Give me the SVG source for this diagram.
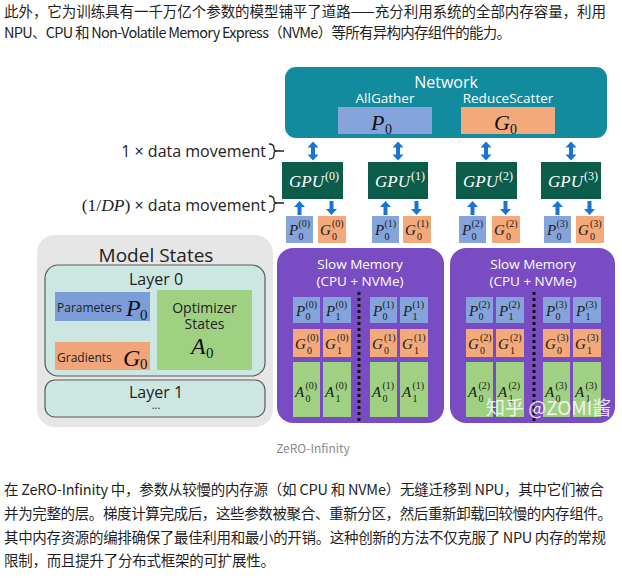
<svg xmlns="http://www.w3.org/2000/svg" width="622" height="578" viewBox="0 0 622 578">
<style>
.cjk{font-family:"Noto Sans CJK SC","Noto Sans",sans-serif;font-size:14.5px;fill:#1f1f1f}
.lbl{font-family:"Open Sans","Noto Sans",sans-serif}
.mi{font-family:"Liberation Serif",serif;font-style:italic}
.mn{font-family:"Liberation Serif",serif}
.cm{font-family:"Liberation Serif",serif;font-style:italic;font-size:15px;fill:#1a1a1a}
.cs{font-family:"Liberation Serif",serif;font-size:10px;fill:#1a1a1a}
.p{fill:#86a4dc}
.g{fill:#f3a97a}
.a{fill:#a0d183}
.arr{fill:#1b74d2}
.w{fill:#ffffff}
</style>
<defs>
<path id="dbl" d="M0,-9.5 L5.5,-3.5 L2,-3.5 L2,3.5 L5.5,3.5 L0,9.5 L-5.5,3.5 L-2,3.5 L-2,-3.5 L-5.5,-3.5 Z"/>
<path id="up" d="M0,0 L5.5,6 L2,6 L2,14 L-2,14 L-2,6 L-5.5,6 Z"/>
<path id="dn" d="M0,0 L5.5,-6 L2,-6 L2,-14 L-2,-14 L-2,-6 L-5.5,-6 Z"/>
</defs>

<!-- page text -->
<text class="cjk" x="4" y="17" textLength="602">此外，它为训练具有一千万亿个参数的模型铺平了道路——充分利用系统的全部内存容量，利用</text>
<text class="cjk" x="4" y="38" textLength="507">NPU、CPU 和 Non-Volatile Memory Express（NVMe）等所有异构内存组件的能力。</text>

<!-- Network -->
<g id="network">
<rect x="285" y="67" width="322" height="71" rx="11" fill="#118b9d"/>
<text class="lbl w" x="446" y="88" font-size="16" text-anchor="middle">Network</text>
<text class="lbl w" x="385" y="103" font-size="13.5" text-anchor="middle">AllGather</text>
<text class="lbl w" x="508" y="103" font-size="13.5" text-anchor="middle">ReduceScatter</text>
<rect x="338" y="107" width="94" height="27" class="p"/>
<rect x="461" y="107" width="94" height="27" class="g"/>
<text class="mi" x="371" y="130" font-size="22" fill="#111">P</text>
<text class="mn" x="385" y="134" font-size="14" fill="#111">0</text>
<text class="mi" x="494" y="130" font-size="22" fill="#111">G</text>
<text class="mn" x="510" y="134" font-size="14" fill="#111">0</text>
</g>

<!-- labels with braces -->
<g id="labels">
<text class="lbl" x="266" y="157" font-size="16" fill="#222" text-anchor="end">1 × data movement</text>
<text x="266" y="211" fill="#222" text-anchor="end"><tspan class="mn" font-size="17.5">(1/</tspan><tspan class="mi" font-size="17.5">DP</tspan><tspan class="mn" font-size="17.5">)</tspan><tspan class="lbl" font-size="16"> × data movement</tspan></text>
<path d="M269,144 Q274,144 274,148 L274,149 Q274,151 278,151 Q274,151 274,153 L274,155 Q274,159 269,159 M278,151 L284,151" fill="none" stroke="#222" stroke-width="1.3"/>
<path d="M269,196 Q274,196 274,200 L274,201 Q274,203 278,203 Q274,203 274,205 L274,208 Q274,212 269,212 M278,203 L284,203" fill="none" stroke="#222" stroke-width="1.3"/>
</g>

<!-- connectors -->
<g id="connectors" class="arr">
<use href="#dbl" x="313" y="151"/>
<use href="#dbl" x="398" y="151"/>
<use href="#dbl" x="486" y="151"/>
<use href="#dbl" x="571" y="151"/>
<use href="#up" x="299.5" y="201"/>
<use href="#dn" x="331.5" y="215"/>
<use href="#up" x="385.5" y="201"/>
<use href="#dn" x="416.5" y="215"/>
<use href="#up" x="472.5" y="201"/>
<use href="#dn" x="505.5" y="215"/>
<use href="#up" x="557.5" y="201"/>
<use href="#dn" x="589.5" y="215"/>
</g>

<!-- GPUs -->
<g id="gpu0" transform="translate(282,162)"><rect width="61" height="37" fill="#0b5c4b"/><text class="mi w" x="7" y="25" font-size="17">GPU</text><text class="mn w" x="43" y="18" font-size="12">(0)</text></g>
<g id="gpu1" transform="translate(368,162)"><rect width="60" height="37" fill="#0b5c4b"/><text class="mi w" x="7" y="25" font-size="17">GPU</text><text class="mn w" x="43" y="18" font-size="12">(1)</text></g>
<g id="gpu2" transform="translate(456,162)"><rect width="61" height="37" fill="#0b5c4b"/><text class="mi w" x="7" y="25" font-size="17">GPU</text><text class="mn w" x="43" y="18" font-size="12">(2)</text></g>
<g id="gpu3" transform="translate(541,162)"><rect width="60" height="37" fill="#0b5c4b"/><text class="mi w" x="7" y="25" font-size="17">GPU</text><text class="mn w" x="43" y="18" font-size="12">(3)</text></g>

<!-- GPU local shards -->
<g id="shards">
<g transform="translate(286,216)"><rect width="27" height="27" class="p"/><text class="cm" x="3" y="19">P</text><text class="cs" x="12.5" y="11">(0)</text><text class="cs" x="12.5" y="24">0</text></g>
<g transform="translate(318,216)"><rect width="28" height="27" class="g"/><text class="cm" x="2" y="19">G</text><text class="cs" x="14" y="11">(0)</text><text class="cs" x="14" y="24">0</text></g>
<g transform="translate(372,216)"><rect width="27" height="27" class="p"/><text class="cm" x="3" y="19">P</text><text class="cs" x="12.5" y="11">(1)</text><text class="cs" x="12.5" y="24">0</text></g>
<g transform="translate(403,216)"><rect width="28" height="27" class="g"/><text class="cm" x="2" y="19">G</text><text class="cs" x="14" y="11">(1)</text><text class="cs" x="14" y="24">0</text></g>
<g transform="translate(459,216)"><rect width="27" height="27" class="p"/><text class="cm" x="3" y="19">P</text><text class="cs" x="12.5" y="11">(2)</text><text class="cs" x="12.5" y="24">0</text></g>
<g transform="translate(492,216)"><rect width="28" height="27" class="g"/><text class="cm" x="2" y="19">G</text><text class="cs" x="14" y="11">(2)</text><text class="cs" x="14" y="24">0</text></g>
<g transform="translate(544,216)"><rect width="27" height="27" class="p"/><text class="cm" x="3" y="19">P</text><text class="cs" x="12.5" y="11">(3)</text><text class="cs" x="12.5" y="24">0</text></g>
<g transform="translate(576,216)"><rect width="28" height="27" class="g"/><text class="cm" x="2" y="19">G</text><text class="cs" x="14" y="11">(3)</text><text class="cs" x="14" y="24">0</text></g>
</g>

<!-- Model States -->
<g id="model-states">
<rect x="37" y="235" width="236" height="192" rx="18" fill="#e6e6e6"/>
<text class="lbl" x="156" y="262" font-size="19" fill="#222" text-anchor="middle">Model States</text>
<rect x="45" y="265" width="220" height="111" rx="13" fill="#cce7e1" stroke="#5a5a5a" stroke-width="1.2"/>
<text class="lbl" x="156" y="285" font-size="16" fill="#222" text-anchor="middle">Layer 0</text>
<rect x="55" y="292" width="95" height="29" fill="#7d9dd8"/>
<text class="lbl" x="57" y="312" font-size="12" fill="#222">Parameters</text>
<text class="mi" x="126" y="316" font-size="24" fill="#111">P</text>
<text class="mn" x="140" y="320" font-size="15" fill="#111">0</text>
<rect x="55" y="342" width="95" height="28" fill="#f2a57a"/>
<text class="lbl" x="57" y="362" font-size="12" fill="#222">Gradients</text>
<text class="mi" x="123" y="366" font-size="24" fill="#111">G</text>
<text class="mn" x="140" y="369" font-size="15" fill="#111">0</text>
<rect x="157" y="290" width="95" height="80" fill="#a0d183"/>
<text class="lbl" x="204.5" y="313" font-size="14" fill="#222" text-anchor="middle">Optimizer</text>
<text class="lbl" x="204.5" y="329" font-size="14" fill="#222" text-anchor="middle">States</text>
<text class="mi" x="191" y="354" font-size="24" fill="#111">A</text>
<text class="mn" x="206" y="358" font-size="15" fill="#111">0</text>
<rect x="45" y="380" width="220" height="37" rx="10" fill="#cce7e1" stroke="#5a5a5a" stroke-width="1.2"/>
<text class="lbl" x="156" y="398" font-size="16" fill="#222" text-anchor="middle">Layer 1</text>
<text class="lbl" x="156" y="409" font-size="11" fill="#222" text-anchor="middle">...</text>
</g>

<!-- Slow Memory 1 -->
<g id="slow-memory-0">
<rect x="277" y="248" width="167" height="175" rx="16" fill="#7a4cc3"/>
<text class="lbl w" x="360" y="269" font-size="13.5" text-anchor="middle">Slow Memory</text>
<text class="lbl w" x="360" y="286" font-size="13.5" text-anchor="middle">(CPU + NVMe)</text>
<line x1="359" y1="292" x2="359" y2="423" stroke="#111" stroke-width="3" stroke-dasharray="3 3"/>
<g transform="translate(293,297)"><rect width="27" height="26" class="p"/><text class="cm" x="3" y="19">P</text><text class="cs" x="12.5" y="11">(0)</text><text class="cs" x="12.5" y="23">0</text></g>
<g transform="translate(323,297)"><rect width="28" height="26" class="p"/><text class="cm" x="3" y="19">P</text><text class="cs" x="12.5" y="11">(0)</text><text class="cs" x="12.5" y="23">1</text></g>
<g transform="translate(370,297)"><rect width="27" height="26" class="p"/><text class="cm" x="3" y="19">P</text><text class="cs" x="12.5" y="11">(1)</text><text class="cs" x="12.5" y="23">0</text></g>
<g transform="translate(400,297)"><rect width="28" height="26" class="p"/><text class="cm" x="3" y="19">P</text><text class="cs" x="12.5" y="11">(1)</text><text class="cs" x="12.5" y="23">1</text></g>
<g transform="translate(293,329)"><rect width="27" height="28" class="g"/><text class="cm" x="2" y="20">G</text><text class="cs" x="14" y="12">(0)</text><text class="cs" x="14" y="25">0</text></g>
<g transform="translate(323,329)"><rect width="28" height="28" class="g"/><text class="cm" x="2" y="20">G</text><text class="cs" x="14" y="12">(0)</text><text class="cs" x="14" y="25">1</text></g>
<g transform="translate(370,329)"><rect width="27" height="28" class="g"/><text class="cm" x="2" y="20">G</text><text class="cs" x="14" y="12">(1)</text><text class="cs" x="14" y="25">0</text></g>
<g transform="translate(400,329)"><rect width="28" height="28" class="g"/><text class="cm" x="2" y="20">G</text><text class="cs" x="14" y="12">(1)</text><text class="cs" x="14" y="25">1</text></g>
<g transform="translate(293,362)"><rect width="27" height="55" class="a"/><text class="cm" x="2" y="35">A</text><text class="cs" x="12.5" y="27">(0)</text><text class="cs" x="12.5" y="40">0</text></g>
<g transform="translate(323,362)"><rect width="28" height="55" class="a"/><text class="cm" x="2" y="35">A</text><text class="cs" x="12.5" y="27">(0)</text><text class="cs" x="12.5" y="40">1</text></g>
<g transform="translate(370,362)"><rect width="27" height="55" class="a"/><text class="cm" x="2" y="35">A</text><text class="cs" x="12.5" y="27">(1)</text><text class="cs" x="12.5" y="40">0</text></g>
<g transform="translate(400,362)"><rect width="28" height="55" class="a"/><text class="cm" x="2" y="35">A</text><text class="cs" x="12.5" y="27">(1)</text><text class="cs" x="12.5" y="40">1</text></g>
</g>

<!-- Slow Memory 2 -->
<g id="slow-memory-1">
<rect x="450" y="248" width="165" height="175" rx="16" fill="#7a4cc3"/>
<text class="lbl w" x="533" y="269" font-size="13.5" text-anchor="middle">Slow Memory</text>
<text class="lbl w" x="533" y="286" font-size="13.5" text-anchor="middle">(CPU + NVMe)</text>
<line x1="534" y1="292" x2="534" y2="423" stroke="#111" stroke-width="3" stroke-dasharray="3 3"/>
<g transform="translate(466,297)"><rect width="27" height="26" class="p"/><text class="cm" x="3" y="19">P</text><text class="cs" x="12.5" y="11">(2)</text><text class="cs" x="12.5" y="23">0</text></g>
<g transform="translate(496,297)"><rect width="28" height="26" class="p"/><text class="cm" x="3" y="19">P</text><text class="cs" x="12.5" y="11">(2)</text><text class="cs" x="12.5" y="23">1</text></g>
<g transform="translate(543,297)"><rect width="27" height="26" class="p"/><text class="cm" x="3" y="19">P</text><text class="cs" x="12.5" y="11">(3)</text><text class="cs" x="12.5" y="23">0</text></g>
<g transform="translate(573,297)"><rect width="28" height="26" class="p"/><text class="cm" x="3" y="19">P</text><text class="cs" x="12.5" y="11">(3)</text><text class="cs" x="12.5" y="23">1</text></g>
<g transform="translate(466,329)"><rect width="27" height="28" class="g"/><text class="cm" x="2" y="20">G</text><text class="cs" x="14" y="12">(2)</text><text class="cs" x="14" y="25">0</text></g>
<g transform="translate(496,329)"><rect width="28" height="28" class="g"/><text class="cm" x="2" y="20">G</text><text class="cs" x="14" y="12">(2)</text><text class="cs" x="14" y="25">1</text></g>
<g transform="translate(543,329)"><rect width="27" height="28" class="g"/><text class="cm" x="2" y="20">G</text><text class="cs" x="14" y="12">(3)</text><text class="cs" x="14" y="25">0</text></g>
<g transform="translate(573,329)"><rect width="28" height="28" class="g"/><text class="cm" x="2" y="20">G</text><text class="cs" x="14" y="12">(3)</text><text class="cs" x="14" y="25">1</text></g>
<g transform="translate(466,362)"><rect width="27" height="55" class="a"/><text class="cm" x="2" y="35">A</text><text class="cs" x="12.5" y="27">(2)</text><text class="cs" x="12.5" y="40">0</text></g>
<g transform="translate(496,362)"><rect width="28" height="55" class="a"/><text class="cm" x="2" y="35">A</text><text class="cs" x="12.5" y="27">(2)</text><text class="cs" x="12.5" y="40">1</text></g>
<g transform="translate(543,362)"><rect width="27" height="55" class="a"/><text class="cm" x="2" y="35">A</text><text class="cs" x="12.5" y="27">(3)</text><text class="cs" x="12.5" y="40">0</text></g>
<g transform="translate(573,362)"><rect width="28" height="55" class="a"/><text class="cm" x="2" y="35">A</text><text class="cs" x="12.5" y="27">(3)</text><text class="cs" x="12.5" y="40">1</text></g>
</g>

<!-- watermark -->
<text x="486" y="415" font-family="Noto Sans CJK SC, Noto Sans, sans-serif" font-size="19" fill="#ffffff" fill-opacity="0.85">知乎 @ZOMI酱</text>

<!-- caption -->
<text x="313" y="453" font-family="Noto Sans CJK SC, Noto Sans, sans-serif" font-size="12" fill="#8a8a8a" text-anchor="middle">ZeRO-Infinity</text>

<!-- bottom text -->
<text class="cjk" x="4" y="495" textLength="600">在 ZeRO-Infinity 中，参数从较慢的内存源（如 CPU 和 NVMe）无缝迁移到 NPU，其中它们被合</text>
<text class="cjk" x="4" y="519" textLength="608">并为完整的层。梯度计算完成后，这些参数被聚合、重新分区，然后重新卸载回较慢的内存组件。</text>
<text class="cjk" x="4" y="543" textLength="602">其中内存资源的编排确保了最佳利用和最小的开销。这种创新的方法不仅克服了 NPU 内存的常规</text>
<text class="cjk" x="4" y="566" textLength="271">限制，而且提升了分布式框架的可扩展性。</text>
</svg>
